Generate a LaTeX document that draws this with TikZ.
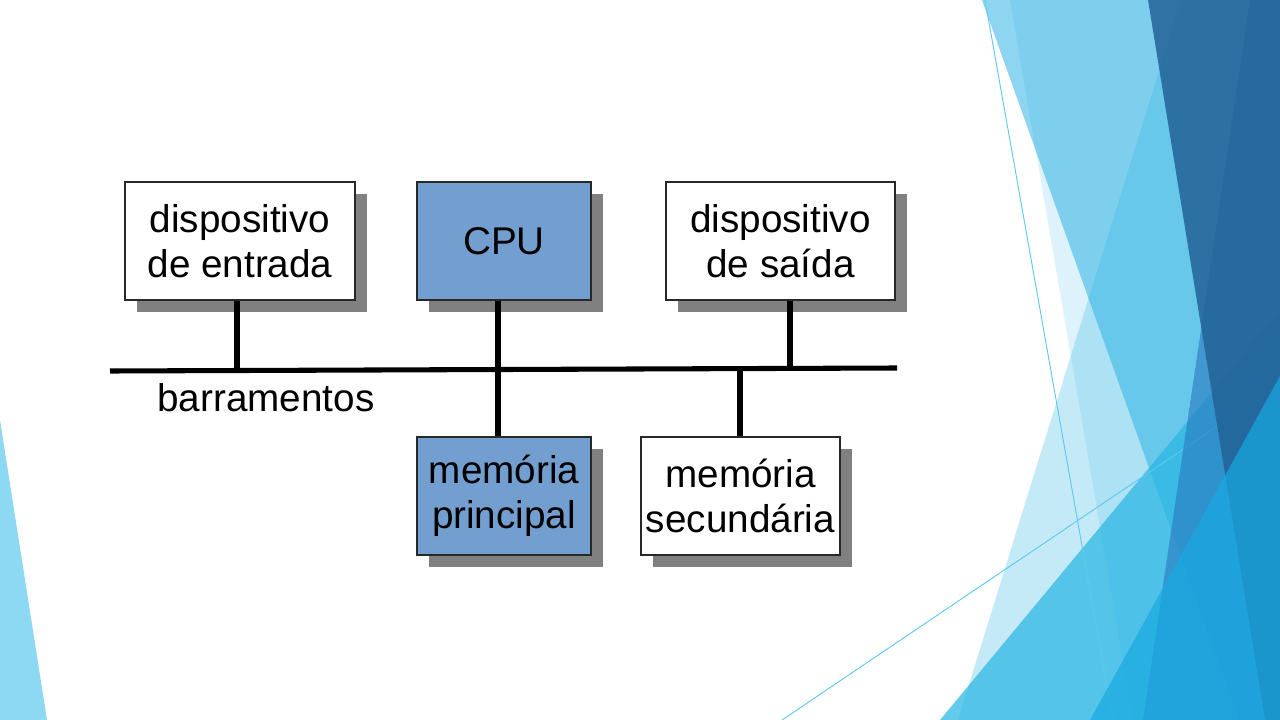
\documentclass[tikz,border=0pt]{standalone}
\usepackage{fontspec}
\setmainfont{Liberation Sans}
\usetikzlibrary{shadows}
\definecolor{cpublue}{RGB}{114,159,207}
\definecolor{boxline}{RGB}{40,40,40}
\definecolor{shadowgray}{RGB}{128,128,128}
\definecolor{facetA}{RGB}{49,180,229}
\definecolor{facetD}{RGB}{41,182,228}
\definecolor{facetE}{RGB}{25,170,225}
\definecolor{darkA}{RGB}{34,98,150}
\definecolor{darkB}{RGB}{40,120,190}
\definecolor{sliver}{RGB}{141,217,243}
\definecolor{thinline}{RGB}{95,200,240}
\tikzset{
  unit/.style={rectangle, draw=boxline, line width=0.9pt, text=black, align=center,
    minimum height=88.5pt, inner sep=0pt,
    font=\fontsize{29}{34}\selectfont,
    drop shadow={shadow xshift=9pt, shadow yshift=-9pt, fill=shadowgray, opacity=1}},
  whitebox/.style={unit, fill=white},
  bluebox/.style={unit, fill=cpublue},
  busline/.style={line width=3.8pt, black},
  thin/.style={draw=thinline, line width=0.7pt}
}
\begin{document}
\begin{tikzpicture}[x=0.75pt, y=-0.75pt]
\useasboundingbox (0,0) rectangle (1280,720);
\fill[white] (0,0) rectangle (1280,720);
% decoration left
\fill[sliver] (0,420) -- (47,720) -- (0,720) -- cycle;
% decoration right
\fill[facetA, opacity=0.28] (1181,0) -- (1280,0) -- (1280,720) -- (958,720) -- cycle;
\fill[facetA, opacity=0.55] (982,0) -- (1280,0) -- (1280,720) -- (1239,720) -- cycle;
\fill[facetA, opacity=0.16] (1010,0) -- (1280,0) -- (1280,720) -- (1133,720) -- cycle;
\fill[facetD, opacity=0.72] (940,720) -- (1280,310) -- (1280,720) -- cycle;
\coordinate (t1a) at (985,0);
\coordinate (t1b) at (1113,720);
\coordinate (t2a) at (782,720);
\coordinate (t2b) at (1280,384);
\draw[thin] (t1a) -- (t1b);
\draw[thin] (t2a) -- (t2b);
\fill[darkB, opacity=0.6] (1250,0) -- (1280,0) -- (1280,720) -- (1143,720) -- cycle;
\fill[darkA, opacity=0.85] (1148,0) -- (1280,0) -- (1280,720) -- (1265,720) -- cycle;
\fill[facetE, opacity=0.7] (1090,720) -- (1280,376) -- (1280,720) -- cycle;
% boxes
\node[whitebox, minimum width=172.5pt] (in) at (240,241) {dispositivo\\de entrada};
\node[bluebox, minimum width=130.5pt] (cpu) at (504,241) {CPU};
\node[whitebox, minimum width=171.75pt] (out) at (780.5,241) {dispositivo\\de saída};
\node[bluebox, minimum width=130.5pt] (mp) at (504,496) {memória\\principal};
\node[whitebox, minimum width=149.25pt] (ms) at (740.5,496) {memória\\secundária};
% bus (slightly tilted as in the original)
\coordinate (busL) at (110,371);
\coordinate (busR) at (897,368);
\coordinate (b1) at (237,370.5);
\coordinate (b2) at (498,369.5);
\coordinate (b3) at (740,368.6);
\coordinate (b4) at (790,368.4);
\draw[busline] (busL) -- (busR);
\draw[busline] (b1 |- in.south) -- (b1);
\draw[busline] (b2 |- cpu.south) -- (b2 |- mp.north);
\draw[busline] (b3) -- (b3 |- ms.north);
\draw[busline] (b4 |- out.south) -- (b4);
\node[font=\fontsize{29}{34}\selectfont, anchor=center] (lbl) at (266,398) {barramentos};
\end{tikzpicture}
\end{document}
